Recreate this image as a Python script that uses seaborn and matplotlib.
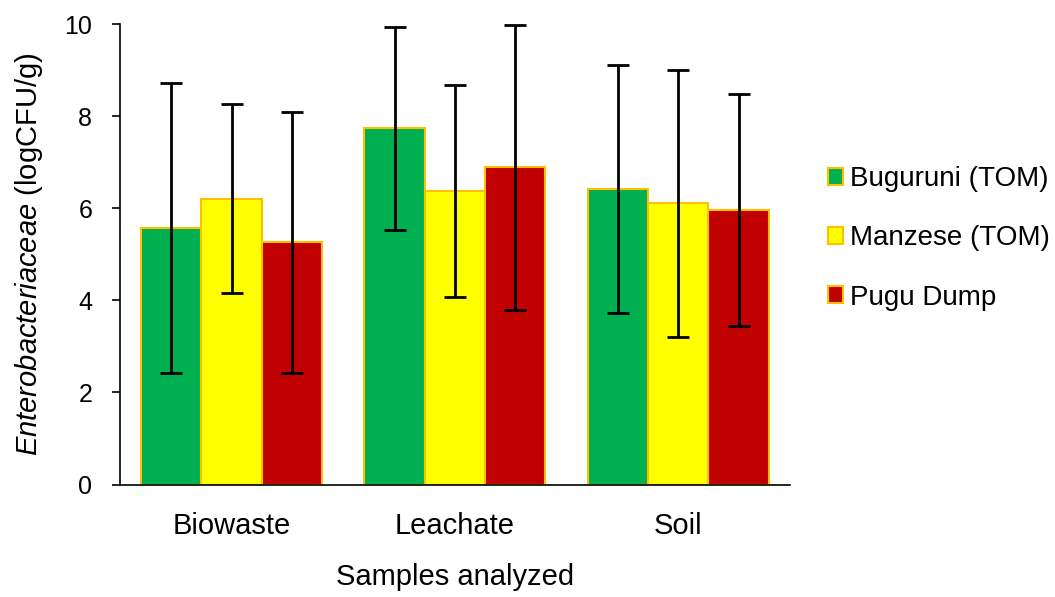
import numpy as np
import pandas as pd
import matplotlib
matplotlib.use('Agg')
import matplotlib.pyplot as plt
import seaborn as sns

# данные
samples = ['Biowaste', 'Leachate', 'Soil']
sites = ['Buguruni (TOM)', 'Manzese (TOM)', 'Pugu Dump']
buguruni = [5.57, 7.74, 6.42]
manzese = [6.21, 6.38, 6.11]
pugu = [5.26, 6.89, 5.96]
buguruni_err = [3.15, 2.20, 2.70]
manzese_err = [2.05, 2.30, 2.90]
pugu_err = [2.84, 3.10, 2.52]

colors = ['#00B050', '#FFFF00', '#C00000']

sns.set_style('white')
plt.rcParams['font.family'] = ['Liberation Sans', 'DejaVu Sans']
plt.rcParams['mathtext.fontset'] = 'custom'
plt.rcParams['mathtext.rm'] = 'Liberation Sans'
plt.rcParams['mathtext.it'] = 'Liberation Sans:italic'
plt.rcParams['text.color'] = 'black'
plt.rcParams['axes.labelcolor'] = 'black'
plt.rcParams['xtick.color'] = 'black'
plt.rcParams['ytick.color'] = 'black'

df = pd.DataFrame({
    'sample': samples * 3,
    'site': [sites[0]] * 3 + [sites[1]] * 3 + [sites[2]] * 3,
    'value': buguruni + manzese + pugu,
})
errs = [buguruni_err, manzese_err, pugu_err]

fig = plt.figure(figsize=(10.55, 5.97), dpi=100)
ax = fig.add_axes([0.1137, 0.1884, 0.635, 0.7709])

sns.barplot(data=df, x='sample', y='value', hue='site', order=samples, hue_order=sites,
            palette=colors, width=0.81, edgecolor='#FFC000', linewidth=1.5,
            errorbar=None, saturation=1, ax=ax)

# планки погрешностей по центрам столбцов
for cont, e in zip(ax.containers, errs):
    xs = [b.get_x() + b.get_width() / 2 for b in cont]
    hs = [b.get_height() for b in cont]
    ax.errorbar(xs, hs, yerr=e, fmt='none', ecolor='black', elinewidth=2,
                capsize=8, capthick=2, zorder=5)

ax.set_xlim(-0.5, 2.5)
ax.set_ylim(0, 10)
ax.set_yticks([0, 2, 4, 6, 8, 10])
ax.set_xlabel('Samples analyzed', fontsize=21, labelpad=16)
ax.set_ylabel(r'$\it{Enterobacteriaceae}$ (logCFU/g)', fontsize=21, labelpad=14)
ax.tick_params(axis='y', length=6, width=1.2, labelsize=18, pad=14, left=True)
ax.tick_params(axis='x', length=0, labelsize=21, pad=20)
for s in ['top', 'right']:
    ax.spines[s].set_visible(False)
for s in ['left', 'bottom']:
    ax.spines[s].set_color('black')
    ax.spines[s].set_linewidth(1.2)

ax.legend(loc='center left', bbox_to_anchor=(1.057, 0.535), frameon=False, fontsize=20,
          handlelength=0.55, handleheight=0.55, handletextpad=0.25, labelspacing=1.2,
          borderpad=0, borderaxespad=0)

fig.savefig('out.png', dpi=100)
